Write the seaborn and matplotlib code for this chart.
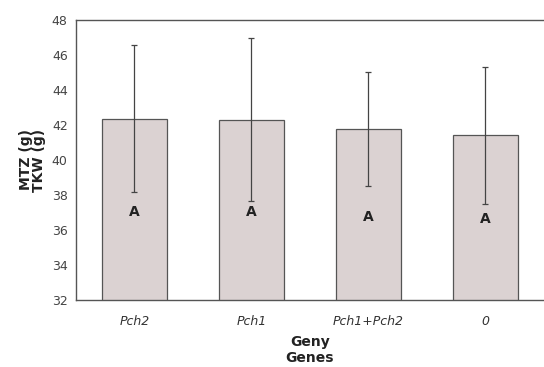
import numpy as np
import pandas as pd
import seaborn as sns
import matplotlib.pyplot as plt
from matplotlib.ticker import FixedLocator

# values
genes = ['Pch2', 'Pch1', 'Pch1+Pch2', '0']
tkw_mean = [42.35, 42.3, 41.77, 41.4]
tkw_err = [4.2, 4.67, 3.26, 3.93]
letters = ['A', 'A', 'A', 'A']
letter_y = [37.05, 37.05, 36.75, 36.6]
yticks = [32, 34, 36, 38, 40, 42, 44, 46, 48]

df = pd.DataFrame({'gene': genes, 'tkw': tkw_mean})

sns.set_style("white")

fig = plt.figure(figsize=(5.44, 3.67), dpi=100)
ax = fig.add_axes([0.1397, 0.1826, 0.8603, 0.7629])

sns.barplot(data=df, x='gene', y='tkw', color='#dbd2d2', saturation=1,
            width=0.55, edgecolor='#555555', linewidth=0.9, ax=ax)
ax.errorbar(np.arange(len(genes)), tkw_mean, yerr=tkw_err, fmt='none',
            ecolor='#444444', elinewidth=0.9, capsize=2.5, capthick=0.9)

for i, (lab, yy) in enumerate(zip(letters, letter_y)):
    ax.text(i, yy, lab, ha='center', va='center', fontsize=10,
            fontweight='bold', color='#222222')

ax.set_ylim(32, 48)
ax.set_xlim(-0.5, 3.5)
ax.set_yticks(yticks)
ax.xaxis.set_minor_locator(FixedLocator([0.5, 1.5, 2.5]))
ax.tick_params(axis='x', which='major', length=0, pad=11)
ax.tick_params(axis='x', which='minor', length=6, direction='inout', color='#999999')
ax.tick_params(axis='y', which='major', length=6, direction='inout', color='#777777',
               labelsize=9, labelcolor='#444444', pad=3)
for t in ax.get_xticklabels():
    t.set_fontstyle('italic')
    t.set_fontsize(9)
    t.set_color('#333333')

for side in ['left', 'bottom', 'top']:
    ax.spines[side].set_color('#555555')
    ax.spines[side].set_linewidth(1.0)
ax.spines['right'].set_visible(False)

ax.set_ylabel('MTZ (g)\nTKW (g)', fontsize=10, fontweight='bold',
              color='#222222', linespacing=0.95, labelpad=4)
ax.set_xlabel('Geny\nGenes', fontsize=10, fontweight='bold',
              color='#222222', linespacing=1.15, labelpad=5)

fig.savefig('out.png', dpi=100)
